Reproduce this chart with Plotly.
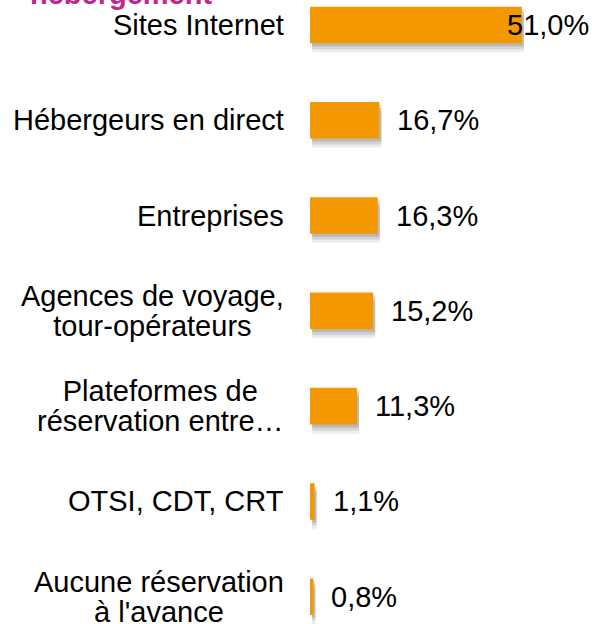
import plotly.graph_objects as go

# Canal de réservation de l'hébergement (part des séjours, %)
categories = [
    "Sites Internet",
    "Hébergeurs en direct",
    "Entreprises",
    "Agences de voyage,<br>tour-opérateurs",
    "Plateformes de<br>réservation entre…",
    "OTSI, CDT, CRT",
    "Aucune réservation<br>à l'avance",
]
shares = [51.0, 16.7, 16.3, 15.2, 11.3, 1.1, 0.8]
title_text = "hébergement"

FONT = "Liberation Sans, Arial, sans-serif"
ORANGE = "#f39800"
BAR_W = 0.384


def fr_pct(v):
    return f"{v:.1f}".replace(".", ",") + "%"


def big_lines(label, size=29):
    # keep the base font small so the <br> line spacing stays tight, like Excel
    return "<br>".join(f"<span style='font-size:{size}px'>{part}</span>"
                       for part in label.split("<br>"))


fig = go.Figure()

# soft drop shadow under the bars
for down, alpha in [(3, 0.13), (6, 0.10), (9, 0.07)]:
    fig.add_trace(go.Bar(
        y=categories, x=shares, base=0.5, orientation="h",
        width=BAR_W, offset=-BAR_W / 2 + down / 95.3,
        marker=dict(color=f"rgba(0,0,0,{alpha})", line=dict(width=0)),
        hoverinfo="skip", showlegend=False,
    ))

fig.add_trace(go.Bar(
    y=categories, x=shares, orientation="h",
    width=BAR_W, offset=-BAR_W / 2,
    marker=dict(color=ORANGE, line=dict(width=0)),
    showlegend=False,
))

annotations = []
top = max(shares)
for cat, v in zip(categories, shares):
    # category label, lines centred, block right-aligned next to the bars
    annotations.append(dict(
        x=0, xref="paper", y=cat, yref="y",
        text=big_lines(cat), showarrow=False,
        xanchor="right", yanchor="middle", align="center", xshift=-24,
        font=dict(family=FONT, size=23, color="#000000"),
    ))
    # value label; the biggest one is squeezed against the right edge
    if v == top:
        annotations.append(dict(
            x=1, xref="paper", y=cat, yref="y", text=fr_pct(v), showarrow=False,
            xanchor="right", yanchor="middle", xshift=-1,
            font=dict(family=FONT, size=29, color="#000000"),
        ))
    else:
        annotations.append(dict(
            x=v, xref="x", y=cat, yref="y", text=fr_pct(v), showarrow=False,
            xanchor="left", yanchor="middle", xshift=16,
            font=dict(family=FONT, size=29, color="#000000"),
        ))

# title, mostly cut off by the top of the picture
annotations.append(dict(
    x=0, xref="paper", y=1, yref="paper", text=f"<b>{title_text}</b>",
    showarrow=False, xanchor="left", yanchor="bottom", xshift=-282, yshift=-12,
    font=dict(family=FONT, size=29, color="#c0288e"),
))

fig.update_layout(
    width=592, height=624,
    margin=dict(l=310, r=0, t=0, b=0),
    paper_bgcolor="white", plot_bgcolor="white",
    barmode="overlay",
    xaxis=dict(range=[0, 67.9], visible=False, fixedrange=True),
    yaxis=dict(range=[6.286, -0.262], visible=False, fixedrange=True,
               categoryorder="array", categoryarray=categories),
    annotations=annotations,
)

# no page margin, so the figure fills the window exactly
fig.write_html("out.html", config={"displayModeBar": False},
               post_script="document.body.style.margin='0';")
